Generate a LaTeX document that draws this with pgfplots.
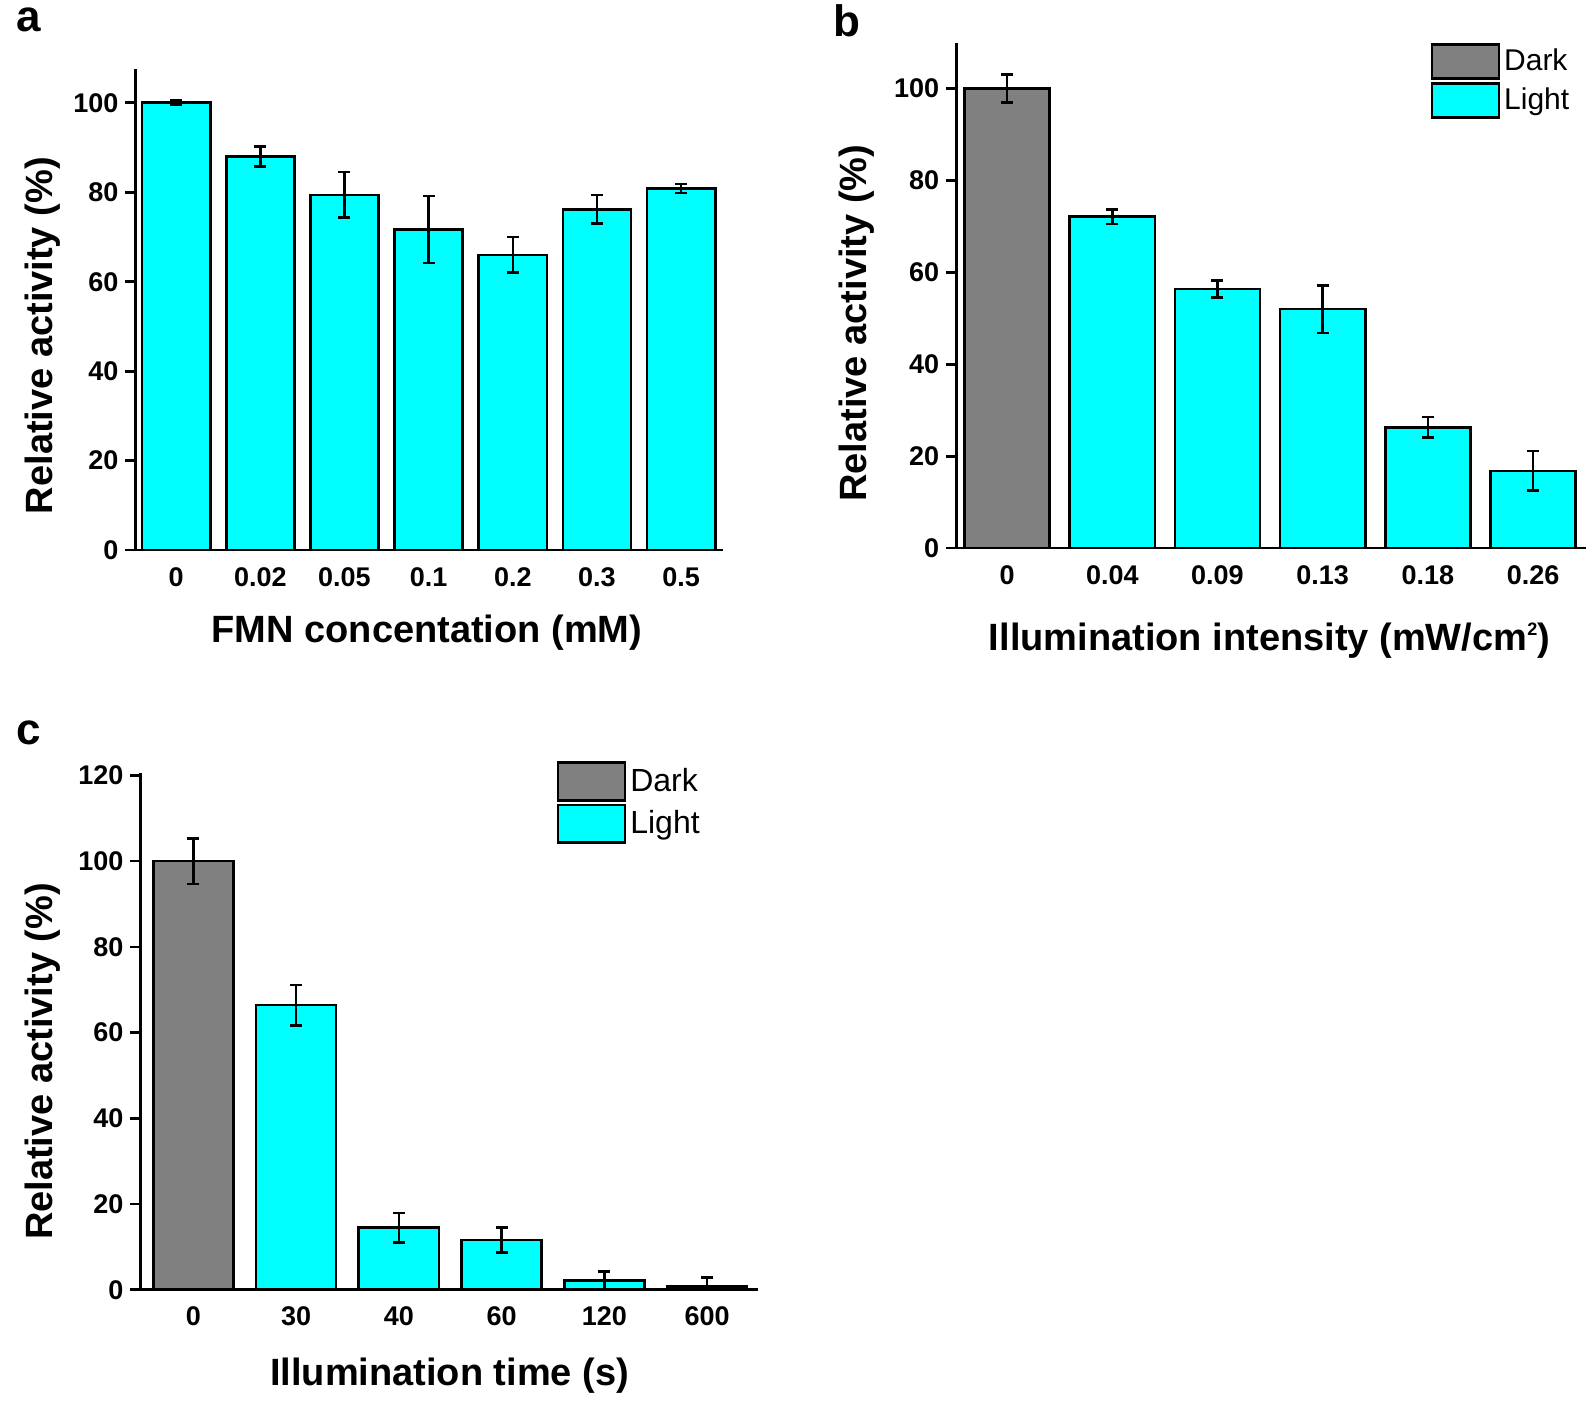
\documentclass[border=0pt]{standalone}
\usepackage{pgfplots}
\pgfplotsset{compat=1.18}
\usepackage{fontspec}
\setmainfont{Liberation Sans}
\definecolor{barcyan}{RGB}{0,255,255}
\definecolor{bargray}{RGB}{128,128,128}
\pgfplotsset{
  mybar/.style={
    scale only axis,
    axis x line=bottom, axis y line=left,
    axis line style={-, line width=1.3pt, black},
    x axis line style={shorten <=-4pt},
    ymin=0, enlargelimits=false, clip=false,
    xtick style={draw=none},
    ytick style={line width=1.3pt, black},
    tick align=outside, major tick length=5pt,
    ticklabel style={font=\fontsize{13.5}{16}\selectfont\bfseries},
    /pgf/number format/assume math mode=true,
    xticklabel style={yshift=0pt},
    label style={font=\fontsize{19}{22}\selectfont\bfseries},
    ybar, bar width=0.81,
  },
  mybarplot/.style={draw=black, line width=1.3pt, bar shift=0pt,
    error bars/y dir=both, error bars/y explicit,
    error bars/error bar style={line width=1.3pt, black},
    error bars/error mark options={rotate=90, mark size=3pt, line width=1.3pt, black}},
  myleg/.style={legend image code/.code={\draw[##1, line width=1.3pt] (0pt,-#1) rectangle (33.5pt,#1);}},
}
\begin{document}
\begin{tikzpicture}
\path[use as bounding box] (0,0) rectangle (797.5pt,700.5pt);

% panel a
\begin{axis}[mybar,
  at={(67.7pt,425.4pt)}, anchor=south west,
  width=293.9pt, height=240.5pt,
  xmin=-0.484, xmax=6.5, ymax=107.5,
  ytick={0,20,40,60,80,100},
  xtick={0,1,2,3,4,5,6},
  xticklabels={0,0.02,0.05,0.1,0.2,0.3,0.5},
  xlabel={FMN concentation (mM)},
  ylabel={Relative activity (\%)},
  xlabel style={at={(axis description cs:0.496,0)}, anchor=center, yshift=-41.2pt},
  ylabel style={at={(axis description cs:-0.1575,0.446)}, anchor=center},
]
\addplot[mybarplot, fill=barcyan] coordinates {
  (0,100) +- (0,0.5)
  (1,88) +- (0,2.2)
  (2,79.4) +- (0,5.1)
  (3,71.7) +- (0,7.5)
  (4,66) +- (0,4)
  (5,76.2) +- (0,3.2)
  (6,80.8) +- (0,1)
};
\end{axis}

% panel b
\begin{axis}[mybar,
  at={(478.1pt,426.4pt)}, anchor=south west,
  width=314.7pt, height=252.8pt,
  xmin=-0.484, xmax=5.5, ymax=110,
  ytick={0,20,40,60,80,100},
  xtick={0,1,2,3,4,5},
  xticklabels={0,0.04,0.09,0.13,0.18,0.26},
  xlabel={Illumination intensity (mW/cm\raisebox{0.75ex}{\fontsize{9}{10}\selectfont 2})},
  ylabel={Relative activity (\%)},
  xlabel style={at={(axis description cs:0.4977,0)}, anchor=center, yshift=-46.3pt},
  ylabel style={at={(axis description cs:-0.1585,0.445)}, anchor=center},
  legend style={at={(axis description cs:0.753,1)}, anchor=north west, draw=none, fill=none, inner sep=0pt,
    font=\fontsize{15}{17}\selectfont, row sep=1pt},
  legend cell align=left,
]
\addplot[mybarplot, fill=bargray, myleg=8.6pt] coordinates {
  (0,100) +- (0,3)
};
\addlegendentry{Dark}
\addplot[mybarplot, fill=barcyan, myleg=8.6pt] coordinates {
  (1,72.1) +- (0,1.6)
  (2,56.4) +- (0,1.9)
  (3,52) +- (0,5.2)
  (4,26.3) +- (0,2.2)
  (5,16.8) +- (0,4.3)
};
\addlegendentry{Light}
\end{axis}

% panel c
\begin{axis}[mybar,
  at={(70.2pt,55.6pt)}, anchor=south west,
  width=309pt, height=258.3pt,
  xmin=-0.515, xmax=5.5, ymax=120.5,
  ytick={0,20,40,60,80,100,120},
  xtick={0,1,2,3,4,5},
  xticklabels={0,30,40,60,120,600},
  bar width=0.78,
  xlabel={Illumination time (s)},
  ylabel={Relative activity (\%)},
  xlabel style={at={(axis description cs:0.5003,0)}, anchor=center, yshift=-42.7pt},
  ylabel style={at={(axis description cs:-0.158,0.442)}, anchor=center},
  legend style={at={(axis description cs:0.673,1.0236)}, anchor=north west, draw=none, fill=none, inner sep=0pt,
    font=\fontsize{16}{18}\selectfont, row sep=1pt},
  legend cell align=left,
]
\addplot[mybarplot, fill=bargray, myleg=9.4pt] coordinates {
  (0,100) +- (0,5.3)
};
\addlegendentry{Dark}
\addplot[mybarplot, fill=barcyan, myleg=9.4pt] coordinates {
  (1,66.4) +- (0,4.7)
  (2,14.5) +- (0,3.4)
  (3,11.6) +- (0,2.9)
  (4,2.1) +- (0,2.1)
  (5,0.7) += (0,2.1) -= (0,0.7)
};
\addlegendentry{Light}
\end{axis}

\node[font=\fontsize{22}{24}\selectfont\bfseries] at (14.2pt,690.3pt) {a};
\node[font=\fontsize{22}{24}\selectfont\bfseries] at (423.7pt,690.3pt) {b};
\node[font=\fontsize{22}{24}\selectfont\bfseries] at (14.2pt,334.3pt) {c};
\end{tikzpicture}
\end{document}
